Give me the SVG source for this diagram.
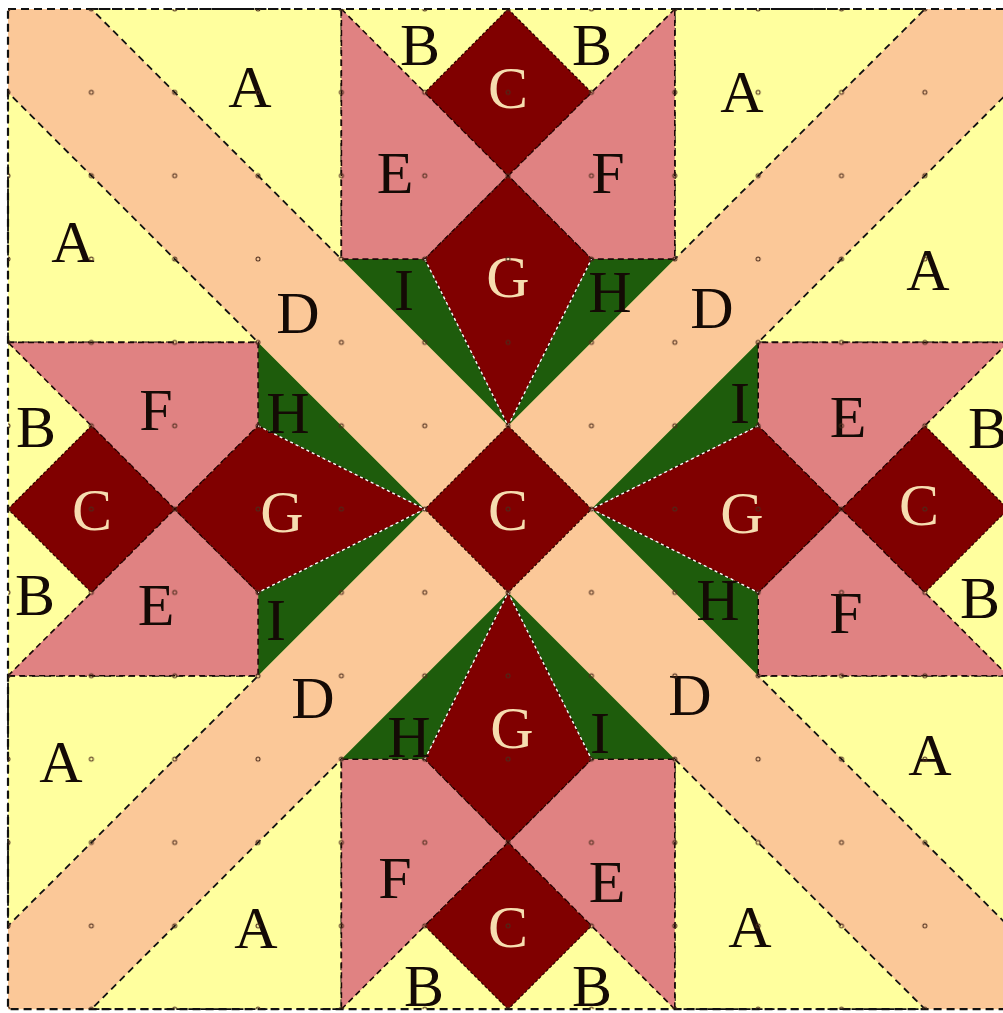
<svg xmlns="http://www.w3.org/2000/svg" width="1003" height="1013" viewBox="0 0 1003 1013">
<style>
.y{fill:#FFFF9E}
.a{fill:#FFFF9E;stroke:#111;stroke-width:1.8;stroke-dasharray:7 5}
.d{fill:#FBC898}
.p{fill:#E08282;stroke:#1a0808;stroke-width:1.6;stroke-dasharray:6 4}
.r{fill:#800000;stroke:#2a0000;stroke-width:1.2;stroke-dasharray:3 2}
.g{fill:#1E5C0C}
.w{fill:none;stroke:#ffffff;stroke-width:1.4;stroke-dasharray:3 3}
.box{fill:none;stroke:#111;stroke-width:2.2;stroke-dasharray:8 5}
text{font-family:"Liberation Serif","Times New Roman",serif;font-size:60px;text-anchor:middle;fill:#140a05}
text.l{fill:#F6DDB0}
</style>
<defs>
<pattern id="dots" patternUnits="userSpaceOnUse" x="-33.675" y="-32.675" width="83.35" height="83.35">
<circle cx="41.675" cy="41.675" r="2" fill="none" stroke="#4a2a1a" stroke-width="1"/>
</pattern>
</defs>
<rect x="0" y="0" width="1003" height="1013" fill="#ffffff"/>
<rect x="8" y="9" width="1000.2" height="1000.2" class="y"/>

<g id="corner-tl">
<polygon class="d" points="8,9 91.4,9 508.1,425.8 424.8,509.1 8,92.4"/>
<polygon class="a" points="91.4,9 341.4,9 341.4,259.1"/>
<polygon class="a" points="8,92.4 8,342.4 258.1,342.4"/>
<text x="250" y="107">A</text><text x="73" y="262">A</text><text x="298" y="333">D</text>
</g>
<g id="corner-tr">
<polygon class="d" points="924.9,9 1008.2,9 1008.2,92.4 591.5,509.1 508.1,425.8"/>
<polygon class="a" points="674.8,9 924.9,9 674.8,259.1"/>
<polygon class="a" points="1008.2,92.4 1008.2,342.4 758.2,342.4"/>
<text x="742" y="112">A</text><text x="928" y="290">A</text><text x="712" y="328">D</text>
</g>
<g id="corner-bl">
<polygon class="d" points="8,925.9 424.8,509.1 508.1,592.5 91.4,1009.2 8,1009.2"/>
<polygon class="a" points="8,675.8 258.1,675.8 8,925.9"/>
<polygon class="a" points="341.4,759.2 341.4,1009.2 91.4,1009.2"/>
<text x="61" y="782">A</text><text x="256" y="948">A</text><text x="313" y="718">D</text>
</g>
<g id="corner-br">
<polygon class="d" points="591.5,509.1 1008.2,925.9 1008.2,1009.2 924.9,1009.2 508.1,592.5"/>
<polygon class="a" points="758.2,675.8 1008.2,675.8 1008.2,925.9"/>
<polygon class="a" points="674.8,759.2 924.9,1009.2 674.8,1009.2"/>
<text x="930" y="775">A</text><text x="750" y="947">A</text><text x="690" y="715">D</text>
</g>

<g id="block-top">
<polygon class="y" points="341.4,9 508.1,9 424.8,92.4"/>
<polygon class="y" points="508.1,9 674.8,9 591.5,92.4"/>
<polygon class="g" points="341.4,259.1 424.8,259.1 508.1,425.8"/>
<polygon class="g" points="591.5,259.1 674.8,259.1 508.1,425.8"/>
<polygon class="p" points="341.4,9 424.8,92.4 508.1,175.7 424.8,259.1 341.4,259.1"/>
<polygon class="p" points="674.8,9 591.5,92.4 508.1,175.7 591.5,259.1 674.8,259.1"/>
<polygon class="r" points="508.1,9 591.5,92.4 508.1,175.7 424.8,92.4"/>
<polygon class="r" points="508.1,175.7 591.5,259.1 508.1,425.8 424.8,259.1"/>
<polyline class="w" points="424.8,259.1 508.1,425.8 591.5,259.1"/>
<text x="420" y="65">B</text><text x="592" y="65">B</text>
<text class="l" x="508" y="108">C</text>
<text x="395" y="193">E</text><text x="608" y="193">F</text>
<text class="l" x="508" y="297">G</text>
<text x="404" y="310">I</text><text x="610" y="312">H</text>
</g>

<g id="block-left">
<polygon class="y" points="8,342.4 8,509.1 91.4,425.8"/>
<polygon class="y" points="8,509.1 8,675.8 91.4,592.5"/>
<polygon class="g" points="258.1,342.4 258.1,425.8 424.8,509.1"/>
<polygon class="g" points="258.1,592.5 258.1,675.8 424.8,509.1"/>
<polygon class="p" points="8,342.4 258.1,342.4 258.1,425.8 174.7,509.1 91.4,425.8"/>
<polygon class="p" points="8,675.8 91.4,592.5 174.7,509.1 258.1,592.5 258.1,675.8"/>
<polygon class="r" points="8,509.1 91.4,425.8 174.7,509.1 91.4,592.5"/>
<polygon class="r" points="174.7,509.1 258.1,425.8 424.8,509.1 258.1,592.5"/>
<polyline class="w" points="258.1,425.8 424.8,509.1 258.1,592.5"/>
<text x="156" y="430">F</text><text x="36" y="447">B</text>
<text class="l" x="92" y="530">C</text><text class="l" x="282" y="532">G</text>
<text x="288" y="433">H</text><text x="35" y="615">B</text>
<text x="156" y="625">E</text><text x="276" y="640">I</text>
</g>

<g id="block-right">
<polygon class="y" points="1008.2,342.4 1008.2,509.1 924.9,425.8"/>
<polygon class="y" points="1008.2,509.1 1008.2,675.8 924.9,592.5"/>
<polygon class="g" points="758.2,342.4 758.2,425.8 591.5,509.1"/>
<polygon class="g" points="758.2,592.5 758.2,675.8 591.5,509.1"/>
<polygon class="p" points="1008.2,342.4 758.2,342.4 758.2,425.8 841.5,509.1 924.9,425.8"/>
<polygon class="p" points="1008.2,675.8 924.9,592.5 841.5,509.1 758.2,592.5 758.2,675.8"/>
<polygon class="r" points="1008.2,509.1 924.9,425.8 841.5,509.1 924.9,592.5"/>
<polygon class="r" points="841.5,509.1 758.2,425.8 591.5,509.1 758.2,592.5"/>
<polyline class="w" points="758.2,425.8 591.5,509.1 758.2,592.5"/>
<text x="740" y="423">I</text><text x="848" y="437">E</text><text x="988" y="448">B</text>
<text class="l" x="742" y="533">G</text><text class="l" x="919" y="525">C</text>
<text x="718" y="620">H</text><text x="846" y="633">F</text><text x="980" y="618">B</text>
</g>

<g id="block-bottom">
<polygon class="y" points="341.4,1009.2 508.1,1009.2 424.8,925.9"/>
<polygon class="y" points="508.1,1009.2 674.8,1009.2 591.5,925.9"/>
<polygon class="g" points="341.4,759.2 424.8,759.2 508.1,592.5"/>
<polygon class="g" points="591.5,759.2 674.8,759.2 508.1,592.5"/>
<polygon class="p" points="341.4,1009.2 424.8,925.9 508.1,842.5 424.8,759.2 341.4,759.2"/>
<polygon class="p" points="674.8,1009.2 591.5,925.9 508.1,842.5 591.5,759.2 674.8,759.2"/>
<polygon class="r" points="508.1,1009.2 424.8,925.9 508.1,842.5 591.5,925.9"/>
<polygon class="r" points="508.1,842.5 424.8,759.2 508.1,592.5 591.5,759.2"/>
<polyline class="w" points="424.8,759.2 508.1,592.5 591.5,759.2"/>
<text x="409" y="757">H</text><text class="l" x="512" y="748">G</text><text x="600" y="753">I</text>
<text x="395" y="898">F</text><text x="607" y="902">E</text>
<text class="l" x="508" y="947">C</text>
<text x="424" y="1006">B</text><text x="592" y="1006">B</text>
</g>

<g id="center">
<polygon class="r" points="508.1,425.8 591.5,509.1 508.1,592.5 424.8,509.1"/>
<text class="l" x="508" y="530">C</text>
</g>

<g id="connectors">
<rect class="box" x="8" y="9" width="1000.2" height="1000.2"/>
</g>
<rect x="8" y="9" width="1000.2" height="1000.2" fill="url(#dots)"/>
</svg>
